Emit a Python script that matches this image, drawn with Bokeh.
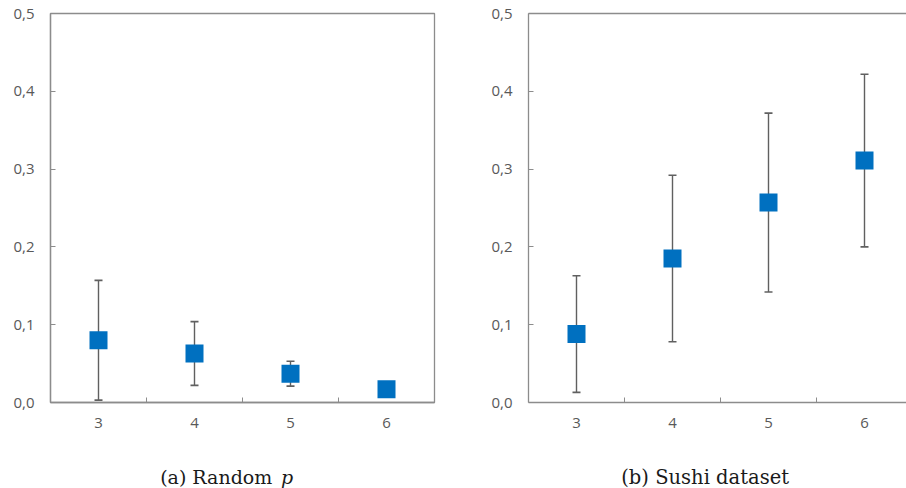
from bokeh.plotting import figure
from bokeh.layouts import row, column
from bokeh.models import ColumnDataSource, Whisker, FixedTicker, Range1d, LinearAxis, TeeHead
from bokeh.core.properties import value
from bokeh.embed import file_html
from bokeh.resources import INLINE

# ---- data ----
categories = [3, 4, 5, 6]
random_p_mean = [0.080, 0.063, 0.037, 0.017]
random_p_err = [0.077, 0.041, 0.016, 0.002]
sushi_mean = [0.088, 0.185, 0.257, 0.311]
sushi_err = [0.075, 0.107, 0.115, 0.111]
y_ticks = [0.0, 0.1, 0.2, 0.3, 0.4, 0.5]
y_tick_labels = ["0,0", "0,1", "0,2", "0,3", "0,4", "0,5"]
caption_a = ["(a) Random", "p"]
caption_b = ["(b) Sushi dataset"]

BLUE = "#0070C0"
FRAME = "#8c8c8c"
TXT = "#595959"
ERR = "#606060"
TICKFONT = "Open Sans"
CAPFONT = "DejaVu Serif"
CAPCOL = "#1a1a1a"

P2_XMAX = 2.5 + 378 / 96


def make_panel(means, errs, width, xmax, left_border, full_box):
    p = figure(width=width, height=450, output_backend="svg", toolbar_location=None,
               x_range=Range1d(2.5, xmax), y_range=Range1d(0, 0.5),
               min_border_left=left_border, min_border_right=52 if full_box else 0,
               min_border_top=13, min_border_bottom=48)
    p.xgrid.visible = False
    p.ygrid.visible = False

    xa = p.below[0]
    ya = p.left[0]

    lo = [m - e for m, e in zip(means, errs)]
    hi = [m + e for m, e in zip(means, errs)]
    src = ColumnDataSource(dict(x=categories, y=means, lo=lo, hi=hi))
    w = Whisker(source=src, base="x", lower="lo", upper="hi", dimension="height",
                line_color=ERR, line_width=1.4,
                upper_head=TeeHead(size=8, line_color=ERR, line_width=1.6),
                lower_head=TeeHead(size=8, line_color=ERR, line_width=1.6))
    p.add_layout(w)
    p.scatter("x", "y", source=src, marker="square", size=18, fill_color=BLUE,
              line_color=BLUE, line_width=0)

    # x axis
    xa.ticker = FixedTicker(ticks=categories, minor_ticks=[3.5, 4.5, 5.5])
    xa.major_tick_in = 0
    xa.major_tick_out = 0
    xa.minor_tick_in = 5
    xa.minor_tick_out = 0
    xa.minor_tick_line_color = FRAME
    xa.axis_line_color = FRAME
    xa.axis_line_width = 1.3
    xa.major_label_standoff = 15
    xa.major_label_text_font = TICKFONT
    xa.major_label_text_font_size = "15px"
    xa.major_label_text_color = TXT

    # y axis
    ya.ticker = FixedTicker(ticks=y_ticks, minor_ticks=[])
    ya.major_label_overrides = {t: l for t, l in zip(y_ticks, y_tick_labels)}
    ya.major_tick_in = 5
    ya.major_tick_out = 0
    ya.minor_tick_in = 0
    ya.minor_tick_out = 0
    ya.major_tick_line_color = FRAME
    ya.axis_line_color = FRAME
    ya.axis_line_width = 1.3
    ya.major_label_standoff = 16
    ya.major_label_text_font = TICKFONT
    ya.major_label_text_font_size = "15px"
    ya.major_label_text_color = TXT

    if full_box:
        p.outline_line_color = FRAME
        p.outline_line_width = 1.3
    else:
        p.outline_line_color = None
        top = LinearAxis(ticker=FixedTicker(ticks=[], minor_ticks=[]), major_label_standoff=0,
                         major_tick_in=0, major_tick_out=0, minor_tick_in=0, minor_tick_out=0,
                         axis_line_color=FRAME, axis_line_width=1.3)
        p.add_layout(top, "above")
    return p


def make_caption(width, xmax, left_border, right_border):
    c = figure(width=width, height=38, output_backend="svg", toolbar_location=None,
               x_range=Range1d(2.5, xmax), y_range=Range1d(0, 1),
               min_border_left=left_border, min_border_right=right_border,
               min_border_top=0, min_border_bottom=0)
    c.axis.visible = False
    c.xgrid.visible = False
    c.ygrid.visible = False
    c.outline_line_color = None
    return c


p1 = make_panel(random_p_mean, random_p_err, 486, 6.5, 50, True)
p2 = make_panel(sushi_mean, sushi_err, 420, P2_XMAX, 42, False)

c1 = make_caption(486, 6.5, 50, 52)
c1.text(x=[4.81], y=[0.29], text=[caption_a[0]], text_align="right",
        text_baseline="alphabetic", text_font=value(CAPFONT), text_font_size="19px",
        text_color=CAPCOL)
c1.text(x=[4.90], y=[0.29], text=[caption_a[1]], text_align="left",
        text_baseline="alphabetic", text_font=value(CAPFONT), text_font_size="19px",
        text_font_style=value("italic"), text_color=CAPCOL)

c2 = make_caption(420, P2_XMAX, 42, 0)
c2.text(x=[4.34], y=[0.29], text=[caption_b[0]], text_align="center",
        text_baseline="alphabetic", text_font=value(CAPFONT), text_font_size="19.5px",
        text_color=CAPCOL)

layout = column(row(p1, p2), row(c1, c2))
open("out.html", "w").write(file_html(layout, INLINE))
